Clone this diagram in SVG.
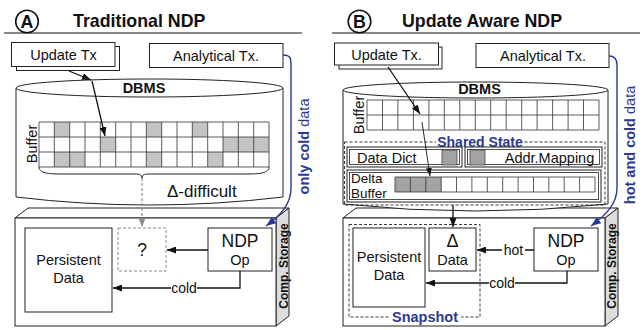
<svg xmlns="http://www.w3.org/2000/svg" width="644" height="330" viewBox="0 0 644 330">
<style>
  text { font-family: "Liberation Sans", Arial, Helvetica, sans-serif; fill: #111; }
  .t { font-size: 14.5px; }
  .c { text-anchor: middle; }
  .b { font-weight: bold; }
  .ttl { font-size: 17.8px; font-weight: bold; }
  .big { font-size: 17.5px; }
  .box { fill: #fff; stroke: #222; stroke-width: 1; }
  .ln { fill: none; stroke: #111; stroke-width: 1.3; }
  .grid { fill: none; stroke: #333; stroke-width: 0.8; }
  .shade { fill: #c4c4c4; }
  .dshade { fill: #a3a3a3; }
  .blue { fill: #2b3990; }
  .bline { fill: none; stroke: #2b3990; stroke-width: 1.4; }
  .dash { fill: none; stroke: #222; stroke-width: 0.9; stroke-dasharray: 3 2; }
  .face { fill: #fff; stroke: #222; stroke-width: 1; }
  .side { fill: #dcdcdc; stroke: #222; stroke-width: 1; }
</style>
<defs>
  <marker id="ah" viewBox="0 0 9 7" refX="9" refY="3.5" markerWidth="9" markerHeight="7" markerUnits="userSpaceOnUse" orient="auto">
    <path d="M0,0 L9,3.5 L0,7 z" fill="#111"/>
  </marker>
  <marker id="ahs" viewBox="0 0 8 6" refX="8" refY="3" markerWidth="8" markerHeight="6" markerUnits="userSpaceOnUse" orient="auto">
    <path d="M0,0 L8,3 L0,6 z" fill="#111"/>
  </marker>
  <marker id="ahg" viewBox="0 0 9 7" refX="9" refY="3.5" markerWidth="9" markerHeight="7" markerUnits="userSpaceOnUse" orient="auto">
    <path d="M0,0 L9,3.5 L0,7 z" fill="#8a8a8a"/>
  </marker>
  <marker id="ahb" viewBox="0 0 9 7" refX="9" refY="3.5" markerWidth="10" markerHeight="8" markerUnits="userSpaceOnUse" orient="auto">
    <path d="M0,0 L9,3.5 L0,7 z" fill="#2b3990"/>
  </marker>
</defs>
<rect width="644" height="330" fill="#fff"/>

<!-- ===== Panel A: Traditional NDP ===== -->
<g id="a-title">
  <circle cx="27" cy="21.5" r="11.3" fill="none" stroke="#111" stroke-width="1.6"/>
  <text x="27" y="27.8" class="c ttl">A</text>
  <text x="73" y="27" class="ttl">Traditional NDP</text>
  <line x1="4" y1="33" x2="302" y2="33" stroke="#111" stroke-width="1.2"/>
</g>

<g id="a-storage">
  <polygon class="face" points="15,218 28,208 289,208 276,218"/>
  <polygon class="side" points="276,218 289,208 289,316 276,326"/>
  <rect class="box" x="15" y="218" width="261" height="108"/>
  <text transform="translate(288,266) rotate(-90)" class="c b" font-size="12px">Comp. Storage</text>
</g>

<g id="a-dbms">
  <path class="box" d="M16,88 V197 Q149.5,213 283,197 V88"/>
  <ellipse class="box" cx="149.5" cy="88" rx="133.5" ry="9"/>
  <text x="144" y="93" class="t c b">DBMS</text>
  <text transform="translate(37,144) rotate(-90)" class="t c">Buffer</text>
  <rect x="39" y="122" width="230" height="45" fill="#fff"/>
  <g class="shade">
    <rect x="54.3" y="122" width="15.4" height="15"/>
    <rect x="146.3" y="122" width="15.4" height="15"/>
    <rect x="192.3" y="122" width="15.4" height="15"/>
    <rect x="100.3" y="137" width="15.4" height="15"/>
    <rect x="223" y="137" width="46" height="15"/>
    <rect x="54.3" y="152" width="30.7" height="15"/>
    <rect x="146.3" y="152" width="15.4" height="15"/>
    <rect x="207.7" y="152" width="15.3" height="15"/>
  </g>
  <path class="grid" d="M39 122V167M54.3 122V167M69.7 122V167M85 122V167M100.3 122V167M115.7 122V167M131 122V167M146.3 122V167M161.7 122V167M177 122V167M192.3 122V167M207.7 122V167M223 122V167M238.3 122V167M253.7 122V167M269 122V167M39 122H269M39 137H269M39 152H269M39 167H269"/>
  <path d="M39,167 C39,172 45,174 60,174 L135,174 C140,174 142,175 142,178 C142,175 144,174 149,174 L248,174 C263,174 269,172 269,167" fill="none" stroke="#222" stroke-width="1"/>
  <text x="167" y="197" font-size="17px">Δ-difficult</text>
</g>

<g id="a-update-tx">
  <rect class="box" x="16.5" y="46.5" width="103" height="24"/>
  <rect class="box" x="11.5" y="42.5" width="103.5" height="24"/>
  <text x="63.5" y="60" class="t c">Update Tx</text>
</g>

<g id="a-analytical-tx">
  <rect class="box" x="149.5" y="43.5" width="133.5" height="24"/>
  <text x="216" y="60.5" class="t c">Analytical Tx.</text>
</g>

<g id="a-persistent">
  <rect class="box" x="25" y="228" width="87" height="84"/>
  <text x="68.5" y="265" class="t c">Persistent</text>
  <text x="68.5" y="283" class="t c">Data</text>
</g>

<g id="a-unknown">
  <rect x="118" y="228" width="48" height="43" fill="#fff" stroke="#8a8a8a" stroke-width="1" stroke-dasharray="3 2"/>
  <text x="142" y="256" class="c big">?</text>
</g>

<g id="a-ndp-op">
  <rect class="box" x="208" y="228" width="64" height="43"/>
  <text x="240" y="247" class="c big">NDP</text>
  <text x="240" y="265" class="t c">Op</text>
</g>

<g id="a-connectors">
  <path class="ln" d="M69,71 L91,80" marker-end="url(#ah)"/>
  <path class="ln" d="M92,81 L105,136" marker-end="url(#ah)"/>
  <path d="M142,178 V227" fill="none" stroke="#8a8a8a" stroke-width="1.2" stroke-dasharray="3 2" marker-end="url(#ahg)"/>
  <path class="ln" d="M208,250 H167" marker-end="url(#ah)"/>
  <path class="ln" d="M240,271 V288 H113" marker-end="url(#ah)"/>
  <rect x="171" y="282" width="26" height="12" fill="#fff"/>
  <text x="184" y="293" class="c" font-size="14px">cold</text>
  <path class="bline" d="M283,55 C290,55 291,58 291,64 V188 C291,204 281,215 266,226" marker-end="url(#ahb)"/>
</g>

<g id="a-data-scope">
  <text transform="translate(309,146.5) rotate(-90)" class="t c blue"><tspan class="b">only cold</tspan> data</text>
</g>

<!-- ===== Panel B: Update Aware NDP ===== -->
<g id="b-title">
  <circle cx="359.5" cy="21.5" r="11.3" fill="none" stroke="#111" stroke-width="1.6"/>
  <text x="359.5" y="27.8" class="c ttl">B</text>
  <text x="402" y="27" class="ttl">Update Aware NDP</text>
  <line x1="332" y1="33" x2="640" y2="33" stroke="#111" stroke-width="1.2"/>
</g>

<g id="b-storage">
  <polygon class="face" points="343,218 356,208 618,208 605,218"/>
  <polygon class="side" points="605,218 618,208 618,316 605,326"/>
  <rect class="box" x="343" y="218" width="262" height="108"/>
  <text transform="translate(616,266) rotate(-90)" class="c b" font-size="12px">Comp. Storage</text>
</g>

<g id="b-dbms">
  <path class="box" d="M343,90 V204 Q475.5,218 608,204 V90"/>
  <ellipse class="box" cx="475.5" cy="90" rx="132.5" ry="8"/>
  <text x="479.5" y="94" class="t c b">DBMS</text>
  <text transform="translate(364,115) rotate(-90)" class="t c">Buffer</text>
  <rect x="367" y="100" width="232" height="30" fill="#fff"/>
  <path class="grid" d="M367 100V130M382.5 100V130M397.9 100V130M413.4 100V130M428.9 100V130M444.3 100V130M459.8 100V130M475.3 100V130M490.7 100V130M506.2 100V130M521.7 100V130M537.1 100V130M552.6 100V130M568.1 100V130M583.5 100V130M599 100V130M367 100H599M367 115H599M367 130H599"/>
</g>

<g id="b-shared-state">
  <rect class="dash" x="344.5" y="142" width="260.5" height="63"/>
  <rect x="436" y="135" width="88" height="13" fill="#fff"/>
  <text x="480" y="147" class="c b blue" font-size="14px">Shared State</text>
</g>

<g id="b-data-dict">
  <rect class="box" x="347" y="147" width="115" height="20"/>
  <rect x="349.5" y="149.5" width="110" height="15" fill="none" stroke="#222" stroke-width="0.8"/>
  <text x="357" y="163" class="t">Data Dict</text>
  <rect x="442" y="150" width="15" height="15" fill="#a3a3a3" stroke="#444" stroke-width="0.8"/>
</g>

<g id="b-addr-mapping">
  <rect class="box" x="465" y="147" width="137" height="20"/>
  <rect x="467.5" y="149.5" width="132" height="15" fill="none" stroke="#222" stroke-width="0.8"/>
  <rect x="470" y="150" width="15" height="15" fill="#a3a3a3" stroke="#444" stroke-width="0.8"/>
  <text x="549.5" y="163" class="t c">Addr.Mapping</text>
</g>

<g id="b-delta-buffer">
  <rect class="box" x="347" y="170" width="254" height="32"/>
  <rect x="349.5" y="172.5" width="249" height="27" fill="none" stroke="#222" stroke-width="0.8"/>
  <text x="351" y="182.5" font-size="13.5px">Delta</text>
  <text x="351" y="197.5" font-size="13.5px">Buffer</text>
  <rect x="395" y="177" width="200" height="15" fill="#fff"/>
  <rect class="dshade" x="395" y="177" width="46.2" height="15"/>
  <path class="grid" d="M395 177V192M410.4 177V192M425.8 177V192M441.2 177V192M456.5 177V192M471.9 177V192M487.3 177V192M502.7 177V192M518.1 177V192M533.5 177V192M548.8 177V192M564.2 177V192M579.6 177V192M595 177V192M395 177H595M395 192H595"/>
</g>

<g id="b-update-tx">
  <rect class="box" x="339" y="47" width="103" height="22"/>
  <rect class="box" x="334.5" y="43" width="104" height="22"/>
  <text x="386.5" y="59.5" class="t c">Update Tx.</text>
</g>

<g id="b-analytical-tx">
  <rect class="box" x="476" y="43.5" width="133" height="24"/>
  <text x="543" y="60.5" class="t c">Analytical Tx.</text>
</g>

<g id="b-snapshot">
  <rect class="dash" x="349" y="224.5" width="131" height="92.5"/>
  <rect x="389" y="311" width="72" height="12" fill="#fff"/>
  <text x="425" y="321.5" class="t c b blue">Snapshot</text>
</g>

<g id="b-persistent">
  <rect class="box" x="353" y="228" width="72" height="79"/>
  <text x="389" y="262" class="t c">Persistent</text>
  <text x="389" y="280" class="t c">Data</text>
</g>

<g id="b-delta-data">
  <rect class="box" x="429" y="228" width="47" height="43"/>
  <text x="452.5" y="247" class="c" font-size="18px">Δ</text>
  <text x="452.5" y="265" class="t c">Data</text>
</g>

<g id="b-ndp-op">
  <rect class="box" x="534" y="228" width="64" height="43"/>
  <text x="566" y="247" class="c big">NDP</text>
  <text x="566" y="265" class="t c">Op</text>
</g>

<g id="b-connectors">
  <path class="ln" d="M388,67 L420,114" marker-end="url(#ah)"/>
  <path d="M422,122 L430,176" fill="none" stroke="#111" stroke-width="0.9" marker-end="url(#ahs)"/>
  <path class="ln" d="M453,205 V227" marker-end="url(#ah)"/>
  <path class="ln" d="M534,250 H477" marker-end="url(#ah)"/>
  <rect x="502" y="243" width="23" height="12" fill="#fff"/>
  <text x="513.5" y="254.5" class="c" font-size="14px">hot</text>
  <path class="ln" d="M567,271 V283 H426" marker-end="url(#ah)"/>
  <rect x="489" y="277" width="26" height="12" fill="#fff"/>
  <text x="502" y="288" class="c" font-size="14px">cold</text>
  <path class="bline" d="M609,56 C615,56 617,59 617,65 V188 C617,204 606,215 591,226" marker-end="url(#ahb)"/>
</g>

<g id="b-data-scope">
  <text transform="translate(635,145) rotate(-90)" class="t c blue"><tspan class="b">hot and cold</tspan> data</text>
</g>
</svg>
